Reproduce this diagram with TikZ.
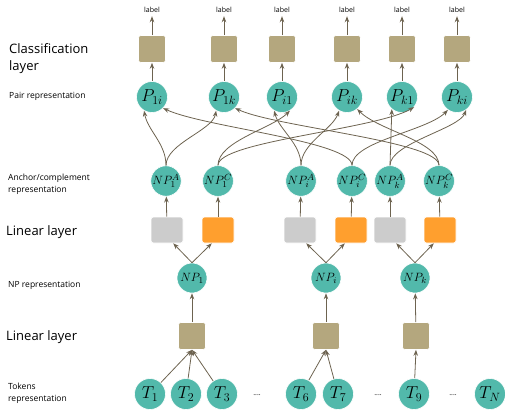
\documentclass[tikz,border=0pt]{standalone}
\usepackage{fontspec}
\setsansfont{Open Sans}
\usetikzlibrary{arrows.meta}

\definecolor{verde}{HTML}{52B9AB}
\definecolor{cachi}{HTML}{B4A77E}
\definecolor{grigio}{HTML}{CCCCCC}
\definecolor{arancio}{HTML}{FF9F2E}
\definecolor{marrone}{HTML}{6D6350}

\begin{document}
\begin{tikzpicture}[>={Stealth[length=6pt,width=4.5pt]}, x=1pt, y=1pt,
    nodo/.style={circle, fill=verde, draw=white, line width=0.6pt, minimum size=31pt, inner sep=0pt, font=\fontsize{17}{17}\selectfont},
    nodonp/.style={nodo, minimum size=30pt, font=\fontsize{13}{13}\selectfont},
    scatola/.style={rounded corners=2.5pt, fill=cachi, draw=white, line width=0.6pt, minimum width=27pt, minimum height=27pt, inner sep=0pt},
    lineare/.style={scatola, minimum width=32pt, minimum height=26pt},
    freccia/.style={->, draw=marrone, line width=0.8pt},
    corta/.style={out=90, out distance=22pt, in distance=20pt},
    lunga/.style={out=90, out distance=24pt, in distance=45pt},
    etichetta/.style={font=\sffamily\fontsize{7}{8}\selectfont},
    strato/.style={anchor=west, align=left, inner sep=0pt, font=\sffamily\fontsize{13}{17}\selectfont},
    descr/.style={anchor=west, align=left, inner sep=0pt, font=\sffamily\fontsize{8.5}{12}\selectfont}]

    \useasboundingbox (0,0) rectangle (505,416);

    % --- Testi a sinistra ---
    \node[strato] (tclass) at (9,357) {Classification\\layer};
    \node[descr] (tpair) at (9,320) {Pair representation};
    \node[descr] (tanchor) at (8,232) {Anchor/complement\\representation};
    \node[strato] (tlin1) at (6,184) {Linear layer};
    \node[descr] (tnp) at (8,131) {NP representation};
    \node[strato] (tlin2) at (6,79) {Linear layer};
    \node[descr] (ttok) at (8,23) {Tokens\\representation};

    % --- Token ---
    \node[nodo] (T1) at (150,22) {$T_1$};
    \node[nodo] (T2) at (186,22) {$T_2$};
    \node[nodo] (T3) at (222,22) {$T_3$};
    \node[nodo] (T6) at (301,22) {$T_6$};
    \node[nodo] (T7) at (338,22) {$T_7$};
    \node[nodo] (T9) at (414,22) {$T_9$};
    \node[nodo] (TN) at (490,22) {$T_N$};
    \node[etichetta] (pt1) at (257,21) {....};
    \node[etichetta] (pt2) at (378,21) {....};
    \node[etichetta] (pt3) at (453,21) {....};

    % --- Linear layer e NP ---
    \node[scatola] (L1) at (192,80) {};
    \node[scatola] (Li) at (326,80) {};
    \node[scatola] (Lk) at (416,80) {};
    \node[nodonp] (NP1) at (192,138) {$NP_1$};
    \node[nodonp] (NPi) at (326,138) {$NP_i$};
    \node[nodonp] (NPk) at (415,138) {$NP_k$};

    \draw[freccia] (T1) -- (L1.south);
    \draw[freccia] (T2) -- (L1.south);
    \draw[freccia] (T3) -- (L1.south);
    \draw[freccia] (T6) -- (Li.south);
    \draw[freccia] (T7) -- (Li.south);
    \draw[freccia] (T9) -- (Lk.south);
    \draw[freccia] (L1) -- (NP1);
    \draw[freccia] (Li) -- (NPi);
    \draw[freccia] (Lk) -- (NPk);

    % --- Anchor / complement ---
    \foreach \n/\xa/\xc/\xn in {1/167/218/192, i/300/351/326, k/390/440/415} {
        \node[lineare, fill=grigio] (GA\n) at (\xa,186) {};
        \node[lineare, fill=arancio] (GC\n) at (\xc,186) {};
        \draw[freccia] (NP\n.north) -- (GA\n.-65);
        \draw[freccia] (NP\n.north) -- (GC\n.-115);
    }
    \node[nodonp] (NP1A) at (166,235) {$NP^A_1$};
    \node[nodonp] (NP1C) at (218,235) {$NP^C_1$};
    \node[nodonp] (NPiA) at (301,235) {$NP^A_i$};
    \node[nodonp] (NPiC) at (352,235) {$NP^C_i$};
    \node[nodonp] (NPkA) at (390,235) {$NP^A_k$};
    \node[nodonp] (NPkC) at (439,235) {$NP^C_k$};
    \foreach \n in {1,i,k} {
        \draw[freccia] (GA\n) -- (NP\n A);
        \draw[freccia] (GC\n) -- (NP\n C);
    }

    % --- Coppie e classificazione ---
    \foreach \nome/\x in {1i/152, 1k/224, i1/282, ik/347, k1/402, ki/457} {
        \node[nodo] (P\nome) at (\x,319) {$P_{\nome}$};
        \node[scatola] (C\nome) at (\x,367) {};
        \node[etichetta] (E\nome) at (\x,406) {label};
        \draw[freccia] (P\nome) -- (C\nome);
        \draw[freccia] (C\nome) -- (E\nome);
    }

    % --- Collegamenti anchor/complement -> coppie ---
    \draw[freccia] (NP1A.north) to[corta,in=-80] (P1i.-120);
    \draw[freccia] (NP1A.north) to[corta,in=-100] (P1k.-120);
    \draw[freccia] (NP1C.north) to[lunga,in=-135,in distance=25pt] (Pi1.-60);
    \draw[freccia] (NP1C.north) to[lunga,in=-150] (Pk1.-40);
    \draw[freccia] (NPiA.north) to[corta,in=-75] (Pi1.-120);
    \draw[freccia] (NPiA.north) to[corta,in=-110] (Pik.-120);
    \draw[freccia] (NPiC.north) to[lunga,in=-25] (P1i.-45);
    \draw[freccia] (NPiC.north) to[lunga,in=-135,in distance=30pt] (Pki.-125);
    \draw[freccia] (NPkA.north) -- (Pk1.-130);
    \draw[freccia] (NPkA.north) to[corta,in=-110] (Pki.-55);
    \draw[freccia] (NPkC.north) to[lunga,in=-25] (P1k.-45);
    \draw[freccia] (NPkC.north) to[lunga,in=-45,in distance=30pt] (Pik.-50);
\end{tikzpicture}
\end{document}
